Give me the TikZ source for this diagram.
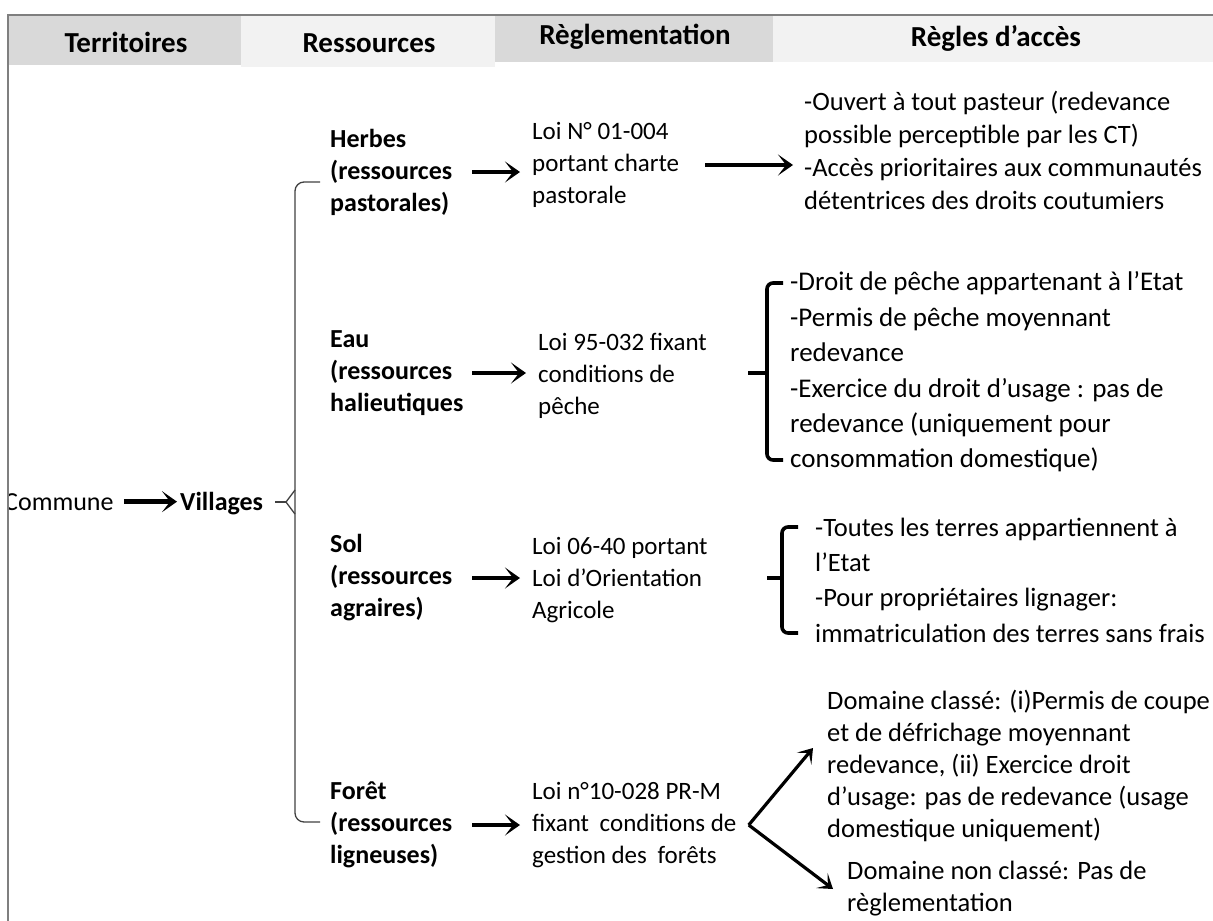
\documentclass[tikz,border=0pt]{standalone}
\usepackage{fontspec}
\setmainfont{Carlito}
\usetikzlibrary{arrows.meta}
\definecolor{cellgris}{HTML}{D9D9D9}
\definecolor{cellclair}{HTML}{F2F2F2}
\definecolor{cadre}{HTML}{7F7F7F}
\definecolor{accolade}{HTML}{404040}

\begin{document}
\begin{tikzpicture}[x=1pt, y=-1pt,
  entete/.style={font=\fontsize{29}{32}\selectfont\bfseries, inner sep=0pt},
  ressource/.style={font=\fontsize{26}{32}\selectfont\bfseries, align=left, text width=140pt, anchor=west, inner sep=0pt},
  loi/.style={font=\fontsize{25}{32}\selectfont, align=left, anchor=west, inner sep=0pt},
  regle/.style={font=\fontsize{26.5}{34}\selectfont, align=left, anchor=west, inner sep=0pt},
  fleche/.style={line width=4.5pt, -{Stealth[length=15pt,width=21pt,inset=8pt]}},
  fourche/.style={line width=3.2pt, -{Stealth[length=14pt,width=19pt,inset=7.5pt]}},
  crochet/.style={line width=3.6pt, rounded corners=6pt},
  lien/.style={draw=accolade, line width=1.3pt, rounded corners=9pt}]
  \useasboundingbox (0,0) rectangle (1213,921);
  % header
  \fill[cellgris] (8,15) rectangle (241,65);
  \fill[cellclair] (241,15) rectangle (495,67);
  \fill[cellgris] (495,15) rectangle (773,62);
  \fill[cellclair] (773,15) rectangle (1213,62);
  \node[entete] (hterr) at (126,42) {Territoires};
  \node[entete] (hres) at (369,43) {Ressources};
  \node[entete] (hregl) at (635,37) {Règlementation};
  \node[entete] (hacces) at (996,38) {Règles d’accès};
  % territoires
  \begin{scope}
    \clip (8,0) rectangle (1213,921);
    \node[loi, anchor=base west, font=\fontsize{26}{32}\selectfont] (commune) at (4,510) {Commune};
  \end{scope}
  \node[loi, anchor=base west, font=\fontsize{26}{32}\selectfont\bfseries] (villages) at (180,510) {Villages};
  \draw[fleche] ([xshift=10pt]commune.east) -- ([xshift=-3pt]commune.east -| villages.west);
  % accolade villages
  \coordinate (pointe) at (286,502);
  \draw[lien] ([xshift=12pt]villages.east |- pointe) -- (pointe);
  \draw[lien] (320,182) -- (295,182) -- (295,822) -- (320,822);
  \draw[lien, rounded corners=0pt] (295,490) -- (pointe) -- (295,514);
  % ressources
  \node[ressource] (herbes) at (330,172) {Herbes\\(ressources\\pastorales)};
  \node[ressource] (eau) at (330,373) {Eau\\(ressources\\halieutiques};
  \node[ressource] (sol) at (330,578) {Sol\\(ressources\\agraires)};
  \node[ressource] (foret) at (330,825) {Forêt\\(ressources\\ligneuses)};
  % reglementation
  \node[loi] (loiherbes) at (532,165) {Loi N° 01-004\\portant charte\\pastorale};
  \node[loi] (loieau) at (538,376) {Loi 95-032 fixant\\conditions de\\pêche};
  \node[loi] (loisol) at (532,580) {Loi 06-40 portant\\Loi d’Orientation\\Agricole};
  \node[loi] (loiforet) at (532,825) {Loi n°10-028 PR-M\\fixant\hspace{5pt} conditions de\\gestion des\hspace{5pt} forêts};
  \foreach \r/\l in {herbes/loiherbes, eau/loieau, sol/loisol, foret/loiforet}
    \draw[fleche] ([xshift=2pt]\r.east) -- ([xshift=-12pt]\r.east -| \l.west);
  % regles d'acces
  \node[regle, font=\fontsize{26.5}{33}\selectfont] (accherbes) at (804,150)
    {-Ouvert à tout pasteur (redevance\\possible perceptible par les CT)\\-Accès prioritaires aux communautés\\détentrices des droits coutumiers};
  \draw[fleche] ([xshift=26pt]loiherbes.east) -- ([xshift=-11pt]loiherbes.east -| accherbes.west);
  \node[regle, font=\fontsize{27}{35.4}\selectfont] (acceau) at (790,372)
    {-Droit de pêche appartenant à l’Etat\\-Permis de pêche moyennant\\redevance\\-Exercice du droit d’usage : pas de\\redevance (uniquement pour\\consommation domestique)};
  \draw[crochet] (783,283) -- (767,283) -- (767,460) -- (783,460);
  \draw[line width=3.6pt] (748,373) -- (767,373);
  \node[regle, font=\fontsize{26.5}{35.3}\selectfont] (accsol) at (815,580)
    {-Toutes les terres appartiennent à\\l’Etat\\-Pour propriétaires lignager:\\immatriculation des terres sans frais};
  \draw[crochet] (798,527) -- (782,527) -- (782,633) -- (798,633);
  \draw[line width=3.6pt] (767,578) -- (782,578);
  \node[regle, font=\fontsize{26.5}{32}\selectfont] (classe) at (827,766)
    {Domaine classé: (i)Permis de coupe\\et de défrichage moyennant\\redevance, (ii) Exercice droit\\d’usage: pas de redevance (usage\\domestique uniquement)};
  \node[regle, font=\fontsize{26.5}{32}\selectfont] (nonclasse) at (847,889)
    {Domaine non classé: Pas de\\règlementation};
  \coordinate (fork) at ([xshift=12pt]loiforet.east);
  \draw[fourche] (fork) -- ([xshift=-14pt, yshift=18pt]classe.west);
  \draw[fourche] (fork) -- ([xshift=-14pt]nonclasse.west);
  % cadre
  \draw[cadre, line width=1.5pt] (8,921) -- (8,15) -- (1213,15);
\end{tikzpicture}
\end{document}
